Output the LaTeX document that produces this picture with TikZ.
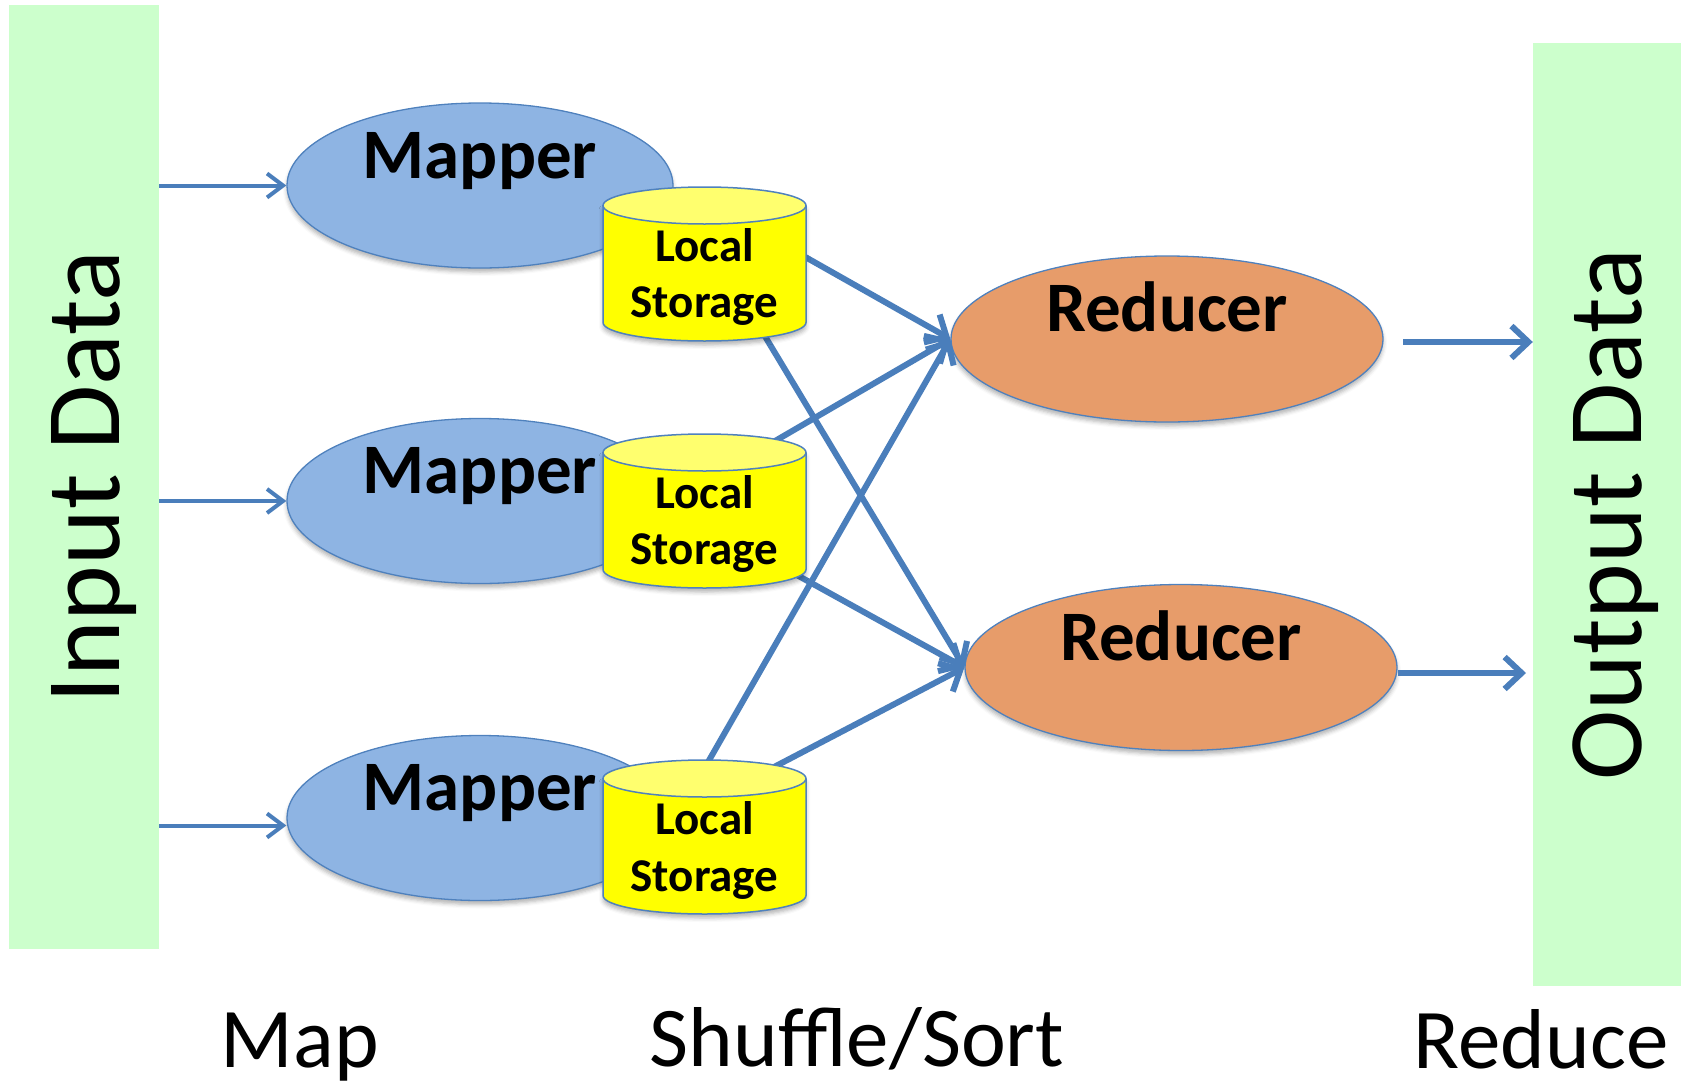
\documentclass[tikz,border=0pt]{standalone}
\usepackage{fontspec}
\setmainfont{Carlito}
\usetikzlibrary{arrows.meta,calc,shapes.geometric,shadows.blur}

\definecolor{linkblue}{RGB}{74,126,187}
\definecolor{edgeblue}{RGB}{79,129,189}
\definecolor{datagreen}{RGB}{204,255,204}
\definecolor{mapblue}{RGB}{142,180,227}
\definecolor{redorange}{RGB}{231,156,106}
\definecolor{diskyellow}{RGB}{255,255,0}
\definecolor{disktop}{RGB}{255,255,110}

\tikzset{
  datarect/.style={rectangle, fill=datagreen, draw=none, inner sep=0pt},
  softshadow/.style={blur shadow={shadow xshift=0pt, shadow yshift=-4pt,
      shadow blur radius=4pt, shadow opacity=30}},
  mapperbox/.style={ellipse, inner sep=0pt, draw=edgeblue, line width=1.3pt,
      fill=mapblue, minimum width=386pt, minimum height=165pt, softshadow},
  reducerbox/.style={ellipse, inner sep=0pt, draw=edgeblue, line width=1.3pt,
      fill=redorange, minimum width=432pt, minimum height=166pt, softshadow},
  boldlbl/.style={inner sep=0pt, anchor=base, font=\bfseries\fontsize{71}{85}\selectfont},
  disklbl/.style={inner sep=0pt, anchor=base, align=center,
      font=\bfseries\fontsize{47}{56.5}\selectfont},
  sidelbl/.style={inner sep=0pt, anchor=base, rotate=90, font=\fontsize{106}{120}\selectfont},
  phaselbl/.style={inner sep=0pt, anchor=base, font=\fontsize{85}{100}\selectfont},
  inarrow/.style={draw=linkblue, line width=4pt, -{Straight Barb[length=16pt,width=24pt]}},
  flowarrow/.style={draw=linkblue, line width=6pt, -{Straight Barb[length=17pt,width=32pt]}},
  disk/.pic={
    % cylinder body with its rounded bottom, then the lighter top face
    \path[softshadow, fill=diskyellow] (-101.5,0) -- (-101.5,117)
      arc[start angle=180, end angle=0, x radius=101.5, y radius=18.5]
      -- (101.5,0) -- cycle;
    \draw[edgeblue, line width=1.5pt] (-101.5,0) -- (-101.5,117)
      arc[start angle=180, end angle=0, x radius=101.5, y radius=18.5]
      -- (101.5,0);
    \draw[edgeblue, line width=1.5pt, fill=disktop] (0,0)
      ellipse[x radius=101.5, y radius=18.5];
  }
}

\begin{document}
\begin{tikzpicture}[x=1pt, y=-1pt]
\useasboundingbox (0,0) rectangle (1681,1087);

% input and output data bars
\node[datarect, minimum width=150pt, minimum height=944pt] (in) at (84,477) {};
\node[datarect, minimum width=148pt, minimum height=943pt] (out) at (1607,514.5) {};
\node[sidelbl] (inlbl) at (119,477) {Input Data};
\node[sidelbl] (outlbl) at (1641,514.5) {Output Data};

% mappers
\node[mapperbox] (m1) at (480,185.5) {};
\node[mapperbox] (m2) at (480,501) {};
\node[mapperbox] (m3) at (480,818) {};
\node[boldlbl] (m1t) at ($(m1.center)+(0,-7.5)$) {Mapper};
\node[boldlbl] (m2t) at ($(m2.center)+(0,-7.5)$) {Mapper};
\node[boldlbl] (m3t) at ($(m3.center)+(0,-7.5)$) {Mapper};

% reducers
\node[reducerbox] (r1) at (1167,339) {};
\node[reducerbox] (r2) at (1181,667.5) {};
\node[boldlbl] (r1t) at ($(r1.center)+(0,-7.5)$) {Reducer};
\node[boldlbl] (r2t) at ($(r2.center)+(0,-7.5)$) {Reducer};

% input splits into the mappers
\draw[inarrow] (in.east |- m1.west) -- (m1.west);
\draw[inarrow] (in.east |- m2.west) -- (m2.west);
\coordinate (m3in) at ($(m3.west)+(0,7.5)$);
\draw[inarrow] (in.east |- m3in) -- (m3in);

% shuffle: every local store feeds both reducers
\coordinate (d1a) at (800,254);
\coordinate (d1b) at (763,333);
\coordinate (d2a) at (775,441);
\coordinate (d2b) at (795,574);
\coordinate (d3a) at (707.5,763);
\coordinate (d3b) at (774,767);
\draw[flowarrow] (d1a) -- (r1.west);
\draw[flowarrow] (d1b) -- (r2.west);
\draw[flowarrow] (d2a) -- (r1.west);
\draw[flowarrow] (d2b) -- (r2.west);
\draw[flowarrow] (d3a) -- (r1.west);
\draw[flowarrow] (d3b) -- (r2.west);

% local storage disks (label base is the baseline of its last line)
\pic at (704.5,205.5) {disk};
\pic at (704.5,452.5) {disk};
\pic at (704.5,778.5) {disk};
\node[disklbl] (s1) at (704.5,317.5) {Local\\Storage};
\node[disklbl] (s2) at (704.5,564.5) {Local\\Storage};
\node[disklbl] (s3) at (704.5,891) {Local\\Storage};

% reducers write the output
\coordinate (o1s) at (1403,342);
\draw[flowarrow] (o1s) -- (out.west |- o1s);
\coordinate (o2s) at ($(r2.east)+(0,5.5)$);
\coordinate (o2e) at (1526,673);
\draw[flowarrow] (o2s) -- (o2e);

% phase captions
\node[phaselbl] (pmap) at (300,1067) {Map};
\node[phaselbl] (pshuf) at (857,1066) {Shuffle/Sort};
\node[phaselbl] (pred) at (1541,1068) {Reduce};
\end{tikzpicture}
\end{document}
